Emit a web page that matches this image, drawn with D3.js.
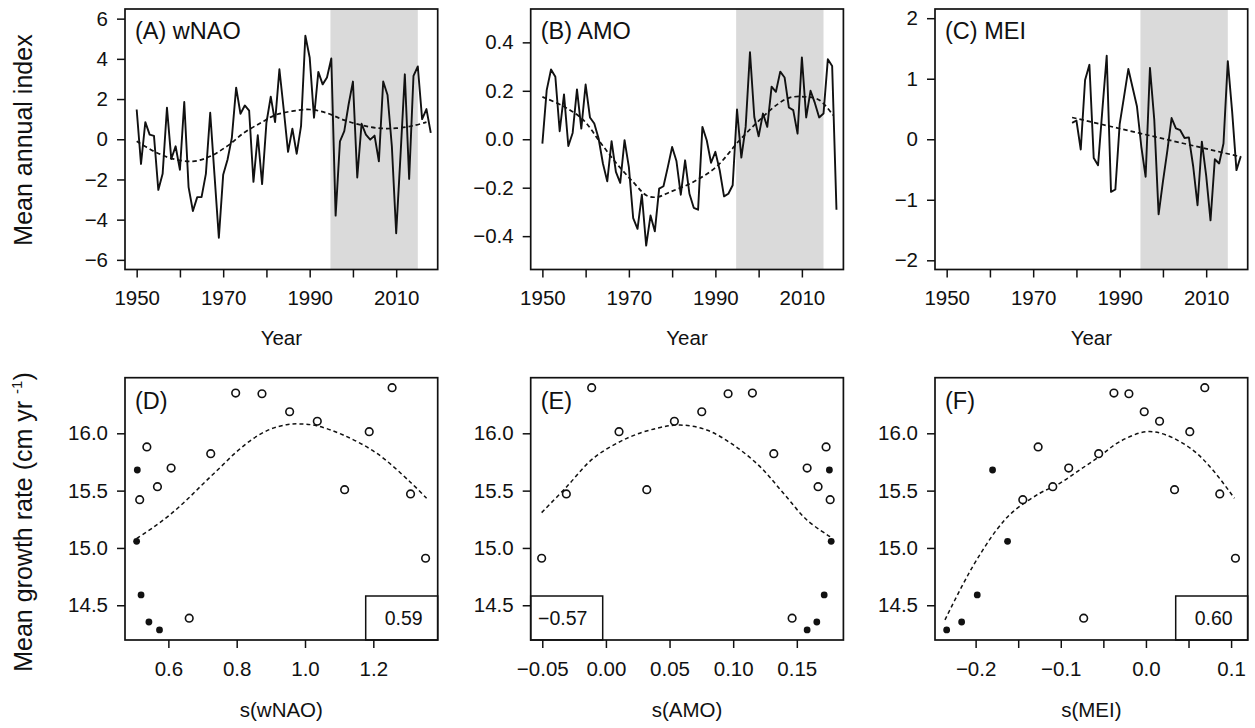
<!DOCTYPE html>
<html><head><meta charset="utf-8">
<script src="https://cdn.jsdelivr.net/npm/d3@7"></script>
<style>
html,body{margin:0;padding:0;background:#fff;}
text{font-family:"Liberation Sans",Arial,Helvetica,sans-serif;fill:#111;}
</style></head>
<body>
<svg id="c" width="1255" height="728"></svg>
<script>
// ---------------- DATA ----------------
const yearsLong = d3.range(1950, 2019);          // 1950..2018
const wnao = [1.48,-1.23,0.85,0.23,0.17,-2.52,-1.72,1.57,-0.98,-0.35,
  -1.52,1.85,-2.38,-3.57,-2.88,-2.88,-1.72,1.32,-1.8,-4.9,
  -1.77,-1.02,0.07,2.57,1.27,1.68,1.43,-2.12,0.2,-2.23,
  0.82,2.12,0.85,3.48,1.48,-0.63,0.53,-0.72,0.65,5.15,
  4.07,1.07,3.35,2.73,3.07,4.02,-3.8,-0.1,0.4,1.73,
  2.87,-1.9,0.77,0.23,-0.02,0.18,-1.1,2.87,2.2,-0.35,
  -4.68,-0.8,3.23,-1.97,3.15,3.62,1.0,1.5,0.32];
const amo = [-0.018,0.203,0.288,0.258,0.033,0.185,-0.028,0.026,0.206,0.044,
  0.226,0.09,0.065,0.003,-0.1,-0.174,-0.008,-0.135,-0.18,-0.004,
  -0.115,-0.326,-0.37,-0.229,-0.439,-0.315,-0.38,-0.204,-0.194,-0.115,
  -0.032,-0.09,-0.229,-0.087,-0.225,-0.283,-0.291,0.051,-0.004,-0.097,
  -0.052,-0.128,-0.236,-0.225,-0.19,0.123,-0.076,0.051,0.359,0.092,
  0.012,0.106,0.051,0.217,0.196,0.279,0.255,0.131,0.12,0.023,
  0.338,0.09,0.2,0.15,0.09,0.106,0.33,0.302,-0.291];
const yearsMEI = d3.range(1979, 2019);           // 1979..2018
const mei = [0.27,0.31,-0.17,0.98,1.23,-0.31,-0.43,0.49,1.38,-0.87,
  -0.83,0.25,0.7,1.16,0.85,0.54,-0.12,-0.62,1.18,0.32,
  -1.24,-0.7,-0.2,0.35,0.18,0.15,0.02,0.03,-0.45,-1.09,
  -0.04,-0.6,-1.34,-0.33,-0.4,-0.07,1.29,0.46,-0.51,-0.28];

// smoothed trends (dashed)
const wnaoSmoothYears = [1950,1954,1958,1963,1967,1971,1975,1979,1982,1986,1990,1994,1998,2002,2006,2010,2014,2017];
const wnaoSmooth      = [-0.1,-0.6,-0.95,-1.1,-0.85,-0.33,0.35,0.85,1.2,1.4,1.48,1.3,0.95,0.7,0.55,0.55,0.68,0.85];
const amoSmoothYears  = [1950,1955,1959.5,1963.3,1967.2,1971,1974.1,1976.4,1979.5,1984.8,1990.2,1995.6,2000.2,2004.1,2007.2,2011,2014.1,2017.2];
const amoSmooth       = [0.175,0.135,0.079,-0.011,-0.101,-0.177,-0.232,-0.239,-0.218,-0.177,-0.114,-0.004,0.079,0.141,0.172,0.175,0.161,0.099];
const meiSmoothYears  = [1979,2018];
const meiSmooth       = [0.36,-0.29];

const shadeYears = [1994.8, 2015];

// scatter: mean growth rate vs smoothed indices
const growth = [16.398,16.351,16.345,16.188,16.105,16.014,15.881,15.822,15.697,15.534,
  15.421,15.508,15.471,14.910,14.387,15.680,15.058,14.590,14.354,14.285];
const sWNAO = [1.255,0.797,0.874,0.955,1.036,1.188,0.537,0.724,0.608,0.568,
  0.516,1.116,1.309,1.353,0.661,0.509,0.507,0.520,0.543,0.574];
const sAMO  = [-0.0112,0.1151,0.0960,0.0753,0.0538,0.0103,0.1730,0.1319,0.1581,0.1667,
  0.1762,0.0321,-0.0311,-0.0505,0.1463,0.1756,0.1770,0.1715,0.1657,0.1581];
const sMEI  = [0.0691,-0.0376,-0.0200,-0.0020,0.0160,0.0515,-0.1266,-0.0555,-0.0907,-0.1094,
  -0.1446,0.0336,0.0867,0.1051,-0.0731,-0.1801,-0.1625,-0.1981,-0.2164,-0.2340];
const filled = [0,0,0,0,0,0,0,0,0,0,0,0,0,0,0,1,1,1,1,1];

// fitted curves (dashed)
const fitWNAOx = [0.5075,0.556,0.605,0.654,0.702,0.751,0.80,0.849,0.898,0.946,0.985,1.034,1.112,1.21,1.307,1.356];
const fitWNAOy = [15.084,15.18,15.29,15.42,15.56,15.70,15.84,15.955,16.035,16.075,16.082,16.066,15.985,15.826,15.578,15.433];
const fitAMOx  = [-0.0505,-0.0308,-0.0099,0.0164,0.040,0.0583,0.0792,0.1002,0.1211,0.1395,0.1579,0.1762];
const fitAMOy  = [15.308,15.534,15.782,15.956,16.044,16.072,16.029,15.898,15.709,15.477,15.244,15.098];
const fitMEIx  = [-0.236,-0.2165,-0.1988,-0.1754,-0.156,-0.1246,-0.1012,-0.0778,-0.0543,-0.0309,0.0004,0.0238,0.055,0.0785,0.1039];
const fitMEIy  = [14.372,14.66,14.895,15.157,15.317,15.477,15.564,15.68,15.80,15.927,16.014,15.985,15.854,15.68,15.433];

const correlations = ["0.59","\u22120.57","0.60"];

// tick labels
const yearTicks = [1950,1960,1970,1980,1990,2000,2010];
const yearTickLabels = ["1950","","1970","","1990","","2010"];
const wnaoTicks = [-6,-4,-2,0,2,4,6];
const wnaoTickLabels = ["\u22126","\u22124","\u22122","0","2","4","6"];
const amoTicks = [-0.4,-0.2,0,0.2,0.4];
const amoTickLabels = ["\u22120.4","\u22120.2","0.0","0.2","0.4"];
const meiTicks = [-2,-1,0,1,2];
const meiTickLabels = ["\u22122","\u22121","0","1","2"];
const growthTicks = [14.5,15,15.5,16];
const growthTickLabels = ["14.5","15.0","15.5","16.0"];
const sWNAOTicks = [0.6,0.8,1.0,1.2];
const sWNAOTickLabels = ["0.6","0.8","1.0","1.2"];
const sAMOTicks = [-0.05,0,0.05,0.1,0.15];
const sAMOTickLabels = ["\u22120.05","0.00","0.05","0.10","0.15"];
const sMEITicks = [-0.2,-0.15,-0.1,-0.05,0,0.05,0.1];
const sMEITickLabels = ["\u22120.2","","\u22120.1","","0.0","","0.1"];

const panelLabels = ["(A) wNAO","(B) AMO","(C) MEI","(D)","(E)","(F)"];
const xTitlesBottom = ["s(wNAO)","s(AMO)","s(MEI)"];

// ---------------- LAYOUT ----------------
const svg = d3.select("#c");
const lefts = [125, 530.7, 935];
const boxW = 312.7;
const topBox = {t: 9, b: 269.5};
const botBox = {t: 377.7, b: 640};
const TICK = 20.5, LAB = 23.5, TITLE = 20.5, YTITLE = 25;

function styleAxis(g){
  g.select(".domain").remove();
  g.selectAll(".tick line").attr("stroke","#111").attr("stroke-width",1.5);
  g.selectAll(".tick text").attr("font-size",TICK).attr("fill","#111")
    .style("font-family",'"Liberation Sans",Arial,sans-serif');
}

function addAxes(g, x, y, xt, xl, yt, yl, h){
  const ax = g.append("g").attr("transform",`translate(0,${h})`)
    .call(d3.axisBottom(x).tickValues(xt).tickSize(8).tickPadding(13)
      .tickFormat((d,i)=>xl[i]));
  styleAxis(ax);
  const ay = g.append("g")
    .call(d3.axisLeft(y).tickValues(yt).tickSize(8).tickPadding(9)
      .tickFormat((d,i)=>yl[i]));
  styleAxis(ay);
}

// ---- top panels ----
const topCfg = [
  {years: yearsLong, vals: wnao, sy: wnaoSmoothYears, sv: wnaoSmooth, dom: [-6.48,6.48], yt: wnaoTicks, yl: wnaoTickLabels},
  {years: yearsLong, vals: amo, sy: amoSmoothYears, sv: amoSmooth, dom: [-0.5377,0.5377], yt: amoTicks, yl: amoTickLabels},
  {years: yearsMEI, vals: mei, sy: meiSmoothYears, sv: meiSmooth, dom: [-2.152,2.152], yt: meiTicks, yl: meiTickLabels}
];
topCfg.forEach((c, i) => {
  const h = topBox.b - topBox.t;
  const g = svg.append("g").attr("transform",`translate(${lefts[i]},${topBox.t})`);
  const x = d3.scaleLinear().domain([1947.3, 2019.6]).range([0, boxW]);
  const y = d3.scaleLinear().domain(c.dom).range([h, 0]);
  g.append("rect").attr("x", x(shadeYears[0])).attr("y", 0)
    .attr("width", x(shadeYears[1]) - x(shadeYears[0])).attr("height", h)
    .attr("fill", "#dadada");
  const pts = c.years.map((yr, k) => [yr, c.vals[k]]);
  g.append("path").datum(pts)
    .attr("d", d3.line().x(d=>x(d[0])).y(d=>y(d[1])))
    .attr("fill","none").attr("stroke","#111").attr("stroke-width",1.9).attr("stroke-linejoin","round");
  const sp = c.sy.map((yr,k)=>[yr, c.sv[k]]);
  g.append("path").datum(sp)
    .attr("d", d3.line().curve(d3.curveCatmullRom).x(d=>x(d[0])).y(d=>y(d[1])))
    .attr("fill","none").attr("stroke","#111").attr("stroke-width",1.7).attr("stroke-dasharray","4.5,3");
  g.append("rect").attr("width", boxW).attr("height", h)
    .attr("fill","none").attr("stroke","#111").attr("stroke-width",1.7);
  addAxes(g, x, y, yearTicks, yearTickLabels, c.yt, c.yl, h);
  g.append("text").attr("x", 10).attr("y", 30).attr("font-size", LAB).text(panelLabels[i]);
  g.append("text").attr("x", boxW/2).attr("y", h + 75.5).attr("text-anchor","middle")
    .attr("font-size", TITLE).text("Year");
});

// ---- bottom panels ----
const botCfg = [
  {xs: sWNAO, dom: [0.473, 1.3885], xt: sWNAOTicks, xl: sWNAOTickLabels, fx: fitWNAOx, fy: fitWNAOy, corrLeft: false},
  {xs: sAMO, dom: [-0.0591, 0.1866], xt: sAMOTicks, xl: sAMOTickLabels, fx: fitAMOx, fy: fitAMOy, corrLeft: true},
  {xs: sMEI, dom: [-0.2477, 0.1195], xt: sMEITicks, xl: sMEITickLabels, fx: fitMEIx, fy: fitMEIy, corrLeft: false}
];
botCfg.forEach((c, i) => {
  const h = botBox.b - botBox.t;
  const g = svg.append("g").attr("transform",`translate(${lefts[i]},${botBox.t})`);
  const x = d3.scaleLinear().domain(c.dom).range([0, boxW]);
  const y = d3.scaleLinear().domain([14.197, 16.485]).range([h, 0]);
  const fit = c.fx.map((v,k)=>[v, c.fy[k]]);
  g.append("path").datum(fit)
    .attr("d", d3.line().curve(d3.curveCatmullRom).x(d=>x(d[0])).y(d=>y(d[1])))
    .attr("fill","none").attr("stroke","#111").attr("stroke-width",1.5).attr("stroke-dasharray","4,3");
  const pts = c.xs.map((v,k)=>({x: v, y: growth[k], f: filled[k]}));
  g.selectAll("circle").data(pts).join("circle")
    .attr("cx", d=>x(d.x)).attr("cy", d=>y(d.y))
    .attr("r", d=> d.f ? 3.4 : 3.8)
    .attr("fill", d=> d.f ? "#111" : "#fff")
    .attr("stroke", "#111").attr("stroke-width", d=> d.f ? 0 : 1.6);
  // correlation box
  const bw = 72, bh = 44;
  const bx = c.corrLeft ? 0 : boxW - bw;
  g.append("rect").attr("x", bx).attr("y", h - bh).attr("width", bw).attr("height", bh)
    .attr("fill","#fff").attr("stroke","#111").attr("stroke-width",1.5);
  g.append("text").attr("x", bx + bw/2 + (c.corrLeft ? -4 : 2)).attr("y", h - bh/2 + 7)
    .attr("text-anchor","middle").attr("font-size", 19.5).text(correlations[i]);
  g.append("rect").attr("width", boxW).attr("height", h)
    .attr("fill","none").attr("stroke","#111").attr("stroke-width",1.7);
  addAxes(g, x, y, c.xt, c.xl, growthTicks, growthTickLabels, h);
  g.append("text").attr("x", 10).attr("y", 31).attr("font-size", LAB).text(panelLabels[3+i]);
  g.append("text").attr("x", boxW/2).attr("y", h + 77.5).attr("text-anchor","middle")
    .attr("font-size", TITLE).text(xTitlesBottom[i]);
});

// y-axis titles
svg.append("text").attr("transform","translate(32,140) rotate(-90)")
  .attr("text-anchor","middle").attr("font-size", YTITLE).text("Mean annual index");
const gt = svg.append("text").attr("transform","translate(32,522) rotate(-90)")
  .attr("text-anchor","middle").attr("font-size", YTITLE);
gt.append("tspan").text("Mean growth rate (cm yr ");
gt.append("tspan").attr("font-size", 15).attr("dy", -10).text("-1");
gt.append("tspan").attr("dy", 10).text(")");
</script>
</body></html>
